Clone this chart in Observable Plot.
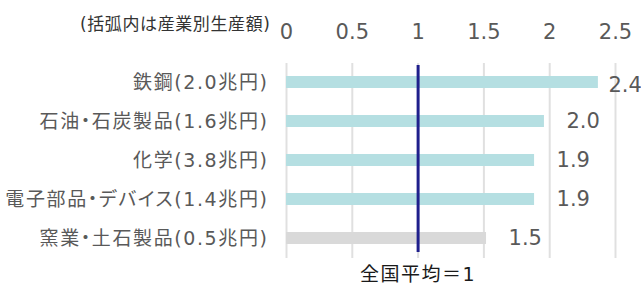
<!DOCTYPE html>
<html>
<head>
<meta charset="utf-8">
<script src="https://cdn.jsdelivr.net/npm/d3@7"></script>
<script src="https://cdn.jsdelivr.net/npm/@observablehq/plot@0.6"></script>
<style>
  html, body { margin: 0; padding: 0; background: #fff; overflow: hidden; }
  g.cat-axis text { font-feature-settings: "palt"; letter-spacing: 1.6px; }
  g.avg-label text { letter-spacing: 1.5px; }
  g.note-label text { letter-spacing: 0.6px; }
</style>
</head>
<body>
<div id="chart"></div>
<script>
const categories = ["鉄鋼(2.0兆円)", "石油・石炭製品(1.6兆円)", "化学(3.8兆円)", "電子部品・デバイス(1.4兆円)", "窯業・土石製品(0.5兆円)"];
const values = [2.37, 1.96, 1.885, 1.885, 1.52];
const xTicks = [0, 0.5, 1, 1.5, 2, 2.5];
const average = 1;
const averageLabel = "全国平均＝1";
const note = "(括弧内は産業別生産額)";

const data = categories.map((c, i) => ({cat: c, value: values[i], idx: i}));
const font = "'DejaVu Sans', 'Noto Sans CJK JP', sans-serif";
const cyan = "#b5dfe2";
const gray = "#d9d9d9";
const textGray = "#595959";

const chart = Plot.plot({
  width: 641,
  height: 289,
  marginLeft: 286,
  marginRight: 26,
  marginTop: 63,
  marginBottom: 31,
  style: {fontFamily: font, background: "#fff"},
  x: {domain: [0, 2.5], label: null},
  y: {domain: categories, paddingInner: 0.68, paddingOuter: 0.34, label: null},
  marks: [
    Plot.ruleX(xTicks, {stroke: "#e0e0e0", strokeWidth: 2}),
    Plot.axisX({anchor: "top", ticks: xTicks, tickFormat: d => String(d), tickSize: 0, tickPadding: 25, fontSize: 21, color: textGray, label: null}),
    Plot.axisY({tickSize: 0, tickPadding: 18, fontSize: 19, color: textGray, label: null, className: "cat-axis"}),
    Plot.barX(data, {x: "value", y: "cat", fill: d => d.idx === categories.length - 1 ? gray : cyan}),
    Plot.ruleX([average], {stroke: "#1f1f8c", strokeWidth: 3, insetBottom: 6, insetTop: 2}),
    Plot.text(data.filter(d => d.value < 2.2), {x: "value", y: "cat", text: d => d3.format(".1f")(d.value), textAnchor: "start", dx: 22, fontSize: 21, fill: textGray}),
    Plot.text(data.filter(d => d.value >= 2.2), {x: "value", y: "cat", text: d => d3.format(".1f")(d.value), textAnchor: "start", dx: 10, dy: 3, fontSize: 21, fill: textGray}),
    Plot.text([average], {x: d => d, text: () => averageLabel, frameAnchor: "bottom", dy: 22, fontSize: 19, fill: "#1a1a1a", className: "avg-label"}),
    Plot.text([note], {frameAnchor: "top-left", text: d => d, textAnchor: "end", dx: -16, dy: -46, fontSize: 17, fill: "#333", className: "note-label"})
  ]
});
document.getElementById("chart").appendChild(chart);
</script>
</body>
</html>
